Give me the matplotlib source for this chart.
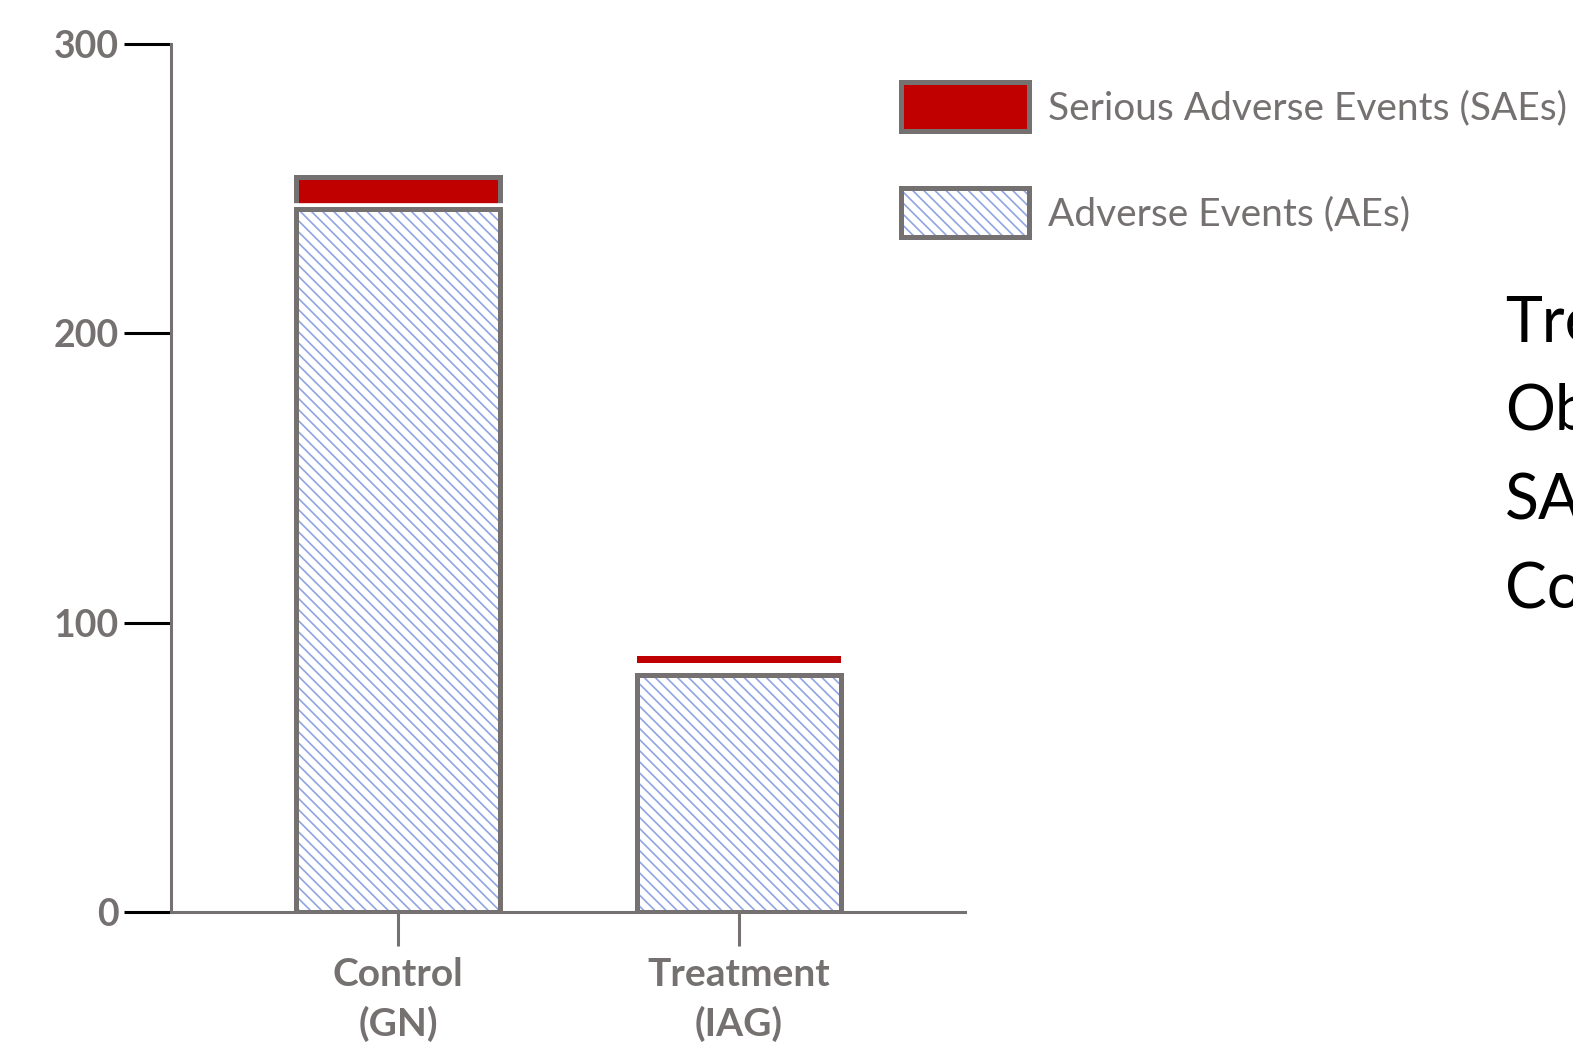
import numpy as np
import matplotlib
matplotlib.use("Agg")
import matplotlib.pyplot as plt
from matplotlib.patches import Patch

# ---- data ----
categories = ["Control\n(GN)", "Treatment\n(IAG)"]
ae_values = [243, 82]          # Adverse Events
sae_values = [11, 2.2]         # Serious Adverse Events
y_ticks = [0, 100, 200, 300]
legend_labels = ["Serious Adverse Events (SAEs)", "Adverse Events (AEs)"]
side_lines = ["Treatment", "Observed", "SAEs", "Compared"]

# ---- style ----
GRAY = "#767171"
RED = "#C00000"
HATCH_BLUE = "#90A4E2"
FONT = "Lato"
HATCH = "\\\\\\"
plt.rcParams["hatch.linewidth"] = 1.2

fig = plt.figure(figsize=(15.73, 10.45), dpi=100)
ax = fig.add_axes([171 / 1573, 1 - 912 / 1045, (965 - 171) / 1573, (912 - 44) / 1045])

x = np.arange(len(categories))
ae = np.array(ae_values, dtype=float)
sae = np.array(sae_values, dtype=float)
width = 0.60
edge_lw = 3.6
sae_gap = np.array([0.0, 4.2])  # visual gap between stacks

# SAE bars
sae_bars = ax.bar(x, sae, width, bottom=ae + sae_gap, color=RED,
                  edgecolor=[GRAY, "none"], linewidth=[edge_lw, 0], zorder=2)
# white halo around AE bars (separates the stacks)
ax.bar(x, ae, width, fill=False, edgecolor="white", linewidth=edge_lw + 5.5,
       zorder=2.5)
# AE hatched fill
ae_fill = ax.bar(x, ae, width, color="white", edgecolor=HATCH_BLUE,
                 hatch=HATCH, linewidth=0, zorder=3)
# AE outline
ax.bar(x, ae, width, fill=False, edgecolor=GRAY, linewidth=edge_lw, zorder=4)

ax.set_xlim(-0.666, 1.663)
ax.set_ylim(0, 300)

for s in ["top", "right"]:
    ax.spines[s].set_visible(False)
for s in ["left", "bottom"]:
    ax.spines[s].set_color(GRAY)
    ax.spines[s].set_linewidth(2.2)
    ax.spines[s].set_zorder(5)

ax.set_yticks(y_ticks)
ax.set_yticklabels([str(t) for t in y_ticks], fontfamily=FONT,
                   fontweight="bold", fontsize=27, color=GRAY)
ax.tick_params(axis="y", length=34, width=2.2, color="black", pad=3.5)
ax.yaxis.get_major_ticks()[0].tick1line.set_color(GRAY)

ax.set_xticks(x)
ax.set_xticklabels(categories, fontfamily=FONT, fontweight="bold",
                   fontsize=28, color=GRAY, linespacing=1.45)
ax.tick_params(axis="x", length=24.5, width=2.2, color=GRAY, pad=8)

# legend
h_sae = Patch(facecolor=RED, edgecolor=GRAY, linewidth=edge_lw)
h_ae = Patch(facecolor="white", edgecolor=HATCH_BLUE, hatch=HATCH, linewidth=0)
h_ae_edge = Patch(fill=False, edgecolor=GRAY, linewidth=edge_lw)
leg = fig.legend([h_sae, (h_ae, h_ae_edge)], legend_labels,
                 loc="upper left", bbox_to_anchor=(901 / 1573, 1 - 82 / 1045),
                 frameon=False, prop={"family": FONT, "size": 28},
                 labelcolor=GRAY, handlelength=3.3, handleheight=1.55,
                 labelspacing=1.48, handletextpad=0.48, borderpad=0,
                 borderaxespad=0)

# cut-off side text
for i, t in enumerate(side_lines):
    fig.text(1505 / 1573, 1 - (323 + i * 89) / 1045, t, fontfamily=FONT,
             fontsize=45, color="black", va="center", ha="left")

fig.savefig("out.png", dpi=100)
